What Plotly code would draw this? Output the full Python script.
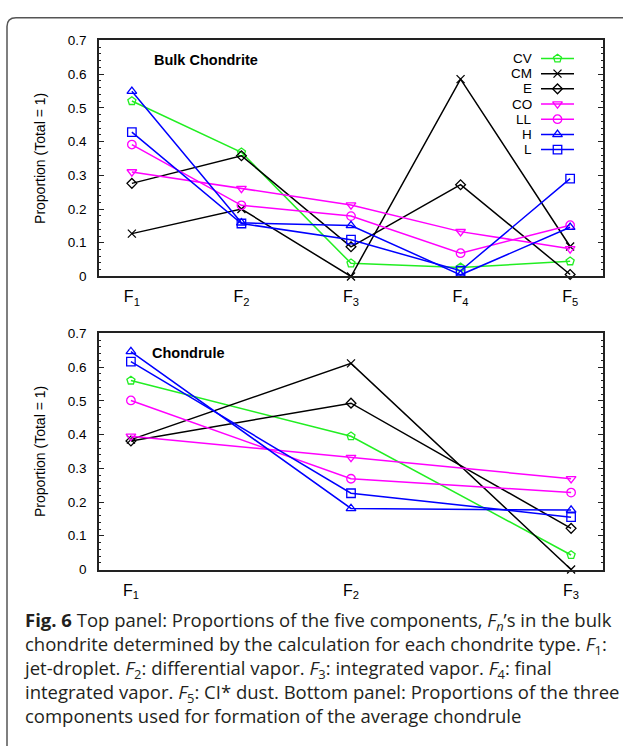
import plotly.graph_objects as go

W, H = 623, 749

# ---------------- data ----------------
series = ["CV", "CM", "E", "CO", "LL", "H", "L"]
colors = {"CV": "#22ee22", "CM": "#000000", "E": "#000000", "CO": "#ff00ff",
          "LL": "#ff00ff", "H": "#0000ff", "L": "#0000ff"}
symbols = {"CV": "pentagon-open", "CM": "x-thin-open", "E": "diamond-open",
           "CO": "triangle-down-open", "LL": "circle-open", "H": "triangle-up-open",
           "L": "square-open"}
msize = {"CV": 8.5, "CM": 8, "E": 7.5, "CO": 8.5, "LL": 8.5, "H": 8.5, "L": 8.5}

top_x = [1, 2, 3, 4, 5]
top_labels = ["F<sub>1</sub>", "F<sub>2</sub>", "F<sub>3</sub>", "F<sub>4</sub>", "F<sub>5</sub>"]
top_CV = [0.520, 0.368, 0.039, 0.027, 0.045]
top_CM = [0.127, 0.200, 0.000, 0.585, 0.089]
top_E = [0.276, 0.358, 0.088, 0.272, 0.006]
top_CO = [0.310, 0.261, 0.212, 0.133, 0.082]
top_LL = [0.391, 0.211, 0.179, 0.069, 0.152]
top_H = [0.549, 0.159, 0.151, 0.005, 0.146]
top_L = [0.428, 0.157, 0.109, 0.017, 0.290]

bot_x = [1, 2, 3]
bot_labels = ["F<sub>1</sub>", "F<sub>2</sub>", "F<sub>3</sub>"]
bot_CV = [0.560, 0.395, 0.043]
bot_CM = [0.385, 0.611, 0.000]
bot_E = [0.381, 0.493, 0.122]
bot_CO = [0.395, 0.332, 0.269]
bot_LL = [0.501, 0.269, 0.228]
bot_H = [0.646, 0.181, 0.176]
bot_L = [0.616, 0.226, 0.155]

y_ticks = [0, 0.1, 0.2, 0.3, 0.4, 0.5, 0.6, 0.7]
y_ticktext = ["0", "0.1", "0.2", "0.3", "0.4", "0.5", "0.6", "0.7"]

top_data = {"CV": top_CV, "CM": top_CM, "E": top_E, "CO": top_CO,
            "LL": top_LL, "H": top_H, "L": top_L}
bot_data = {"CV": bot_CV, "CM": bot_CM, "E": bot_E, "CO": bot_CO,
            "LL": bot_LL, "H": bot_H, "L": bot_L}

caption_lines = [
    "<b>Fig. 6</b> Top panel: Proportions of the five components, <i>F<sub>n</sub></i>’s in the bulk",
    "chondrite determined by the calculation for each chondrite type. <i>F</i><sub>1</sub>:",
    "jet-droplet. <i>F</i><sub>2</sub>: differential vapor. <i>F</i><sub>3</sub>: integrated vapor. <i>F</i><sub>4</sub>: final",
    "integrated vapor. <i>F</i><sub>5</sub>: CI* dust. Bottom panel: Proportions of the three",
    "components used for formation of the average chondrule",
]

# ---------------- layout constants (pixels) ----------------
PL, PR = 99, 603
TOP_T, TOP_B = 34, 275
BOT_T, BOT_B = 333, 574
FONT = "Liberation Sans, Arial, sans-serif"


def px_x(v):
    return v / W


def px_y(v):
    return 1 - v / H


def marker(s):
    return dict(symbol=symbols[s], size=msize[s], color=colors[s],
                line=dict(width=1.3, color=colors[s]))


fig = go.Figure()

for s in series:
    fig.add_trace(go.Scatter(
        x=top_x, y=top_data[s], mode="lines+markers", name=s,
        line=dict(color=colors[s], width=1.5), marker=marker(s),
        cliponaxis=False, showlegend=False, xaxis="x", yaxis="y"))
for s in series:
    fig.add_trace(go.Scatter(
        x=bot_x, y=bot_data[s], mode="lines+markers", name=s,
        line=dict(color=colors[s], width=1.5), marker=marker(s),
        cliponaxis=False, showlegend=False, xaxis="x2", yaxis="y2"))

# custom legend (labels right-aligned, key to the right, gnuplot style)
LEG_TEXT_X = 534
LEG_KEY_X0, LEG_KEY_X1 = 541, 574
LEG_Y0, LEG_DY = 52.5, 15.5
for i, s in enumerate(series):
    yy = LEG_Y0 + i * LEG_DY
    fig.add_trace(go.Scatter(
        x=[LEG_KEY_X0, LEG_KEY_X1], y=[yy, yy], mode="lines",
        line=dict(color=colors[s], width=1.5), showlegend=False,
        hoverinfo="skip", xaxis="x3", yaxis="y3"))
    fig.add_trace(go.Scatter(
        x=[(LEG_KEY_X0 + LEG_KEY_X1) / 2], y=[yy], mode="markers",
        marker=marker(s), showlegend=False, hoverinfo="skip", xaxis="x3", yaxis="y3"))
    fig.add_annotation(x=px_x(LEG_TEXT_X), y=px_y(yy), xref="paper", yref="paper",
                       text=s, showarrow=False, xanchor="right", yanchor="middle",
                       font=dict(family=FONT, size=13.5, color="#000"))

axis_common = dict(showgrid=False, zeroline=False, showline=True, linecolor="#222",
                   linewidth=1.6, mirror=True)
yaxis_common = dict(axis_common, range=[0, 0.7], tickvals=y_ticks, ticktext=y_ticktext,
                    ticks="inside", ticklen=5, tickwidth=1, tickcolor="#222",
                    minor=dict(dtick=0.02, ticks="inside", ticklen=2.5, tickwidth=1, tickcolor="#222"),
                    tickfont=dict(family=FONT, size=13.5, color="#000"), ticklabelstandoff=8,
                    title=dict(text="Proportion (Total = 1)", standoff=19,
                               font=dict(family=FONT, size=14, color="#000")))
yaxis_common["mirror"] = "allticks"

xfont = dict(family=FONT, size=16, color="#000")

fig.update_layout(
    width=W, height=H, margin=dict(l=0, r=0, t=0, b=0),
    paper_bgcolor="white", plot_bgcolor="white",
    xaxis=dict(axis_common, domain=[px_x(PL), px_x(PR)], range=[0.7, 5.3],
               tickvals=top_x, ticktext=top_labels, ticks="", anchor="y",
               tickfont=xfont, ticklabelstandoff=5),
    yaxis=dict(yaxis_common, domain=[px_y(TOP_B), px_y(TOP_T)], anchor="x"),
    xaxis2=dict(axis_common, domain=[px_x(PL), px_x(PR)], range=[0.855, 3.145],
                tickvals=bot_x, ticktext=bot_labels, ticks="", anchor="y2",
                tickfont=xfont, ticklabelstandoff=5),
    yaxis2=dict(yaxis_common, domain=[px_y(BOT_B), px_y(BOT_T)], anchor="x2"),
    xaxis3=dict(domain=[px_x(PL), px_x(PR)], range=[PL, PR], visible=False, anchor="y3",
                overlaying="x"),
    yaxis3=dict(domain=[px_y(TOP_B), px_y(TOP_T)], range=[TOP_B, TOP_T], visible=False,
                anchor="x3", overlaying="y"),
)

# panel labels
fig.add_annotation(x=px_x(152), y=px_y(54), xref="paper", yref="paper", text="<b>Bulk Chondrite</b>",
                   showarrow=False, xanchor="left", yanchor="middle",
                   font=dict(family=FONT, size=14.5, color="#000"))
fig.add_annotation(x=px_x(150), y=px_y(353), xref="paper", yref="paper", text="<b>Chondrule</b>",
                   showarrow=False, xanchor="left", yanchor="middle",
                   font=dict(family=FONT, size=14.5, color="#000"))

# caption (single multi-line block)
CAP_CENTER_Y = 674
fig.add_annotation(x=px_x(21), y=px_y(CAP_CENTER_Y), xref="paper", yref="paper",
                   text="<br>".join(caption_lines), showarrow=False, align="left",
                   xanchor="left", yanchor="middle",
                   font=dict(family="Open Sans, sans-serif", size=18.5, color="#231f20"))

# rounded frame (top and left visible)
r = 9
x0, y0 = 7, 11
path = (f"M {px_x(x0)},{px_y(H + 5)} L {px_x(x0)},{px_y(y0 + r)} "
        f"Q {px_x(x0)},{px_y(y0)} {px_x(x0 + r)},{px_y(y0)} L {px_x(W + 5)},{px_y(y0)}")
fig.add_shape(type="path", path=path, xref="paper", yref="paper",
              line=dict(color="#555555", width=1.5))

fig.write_html("out.html")
